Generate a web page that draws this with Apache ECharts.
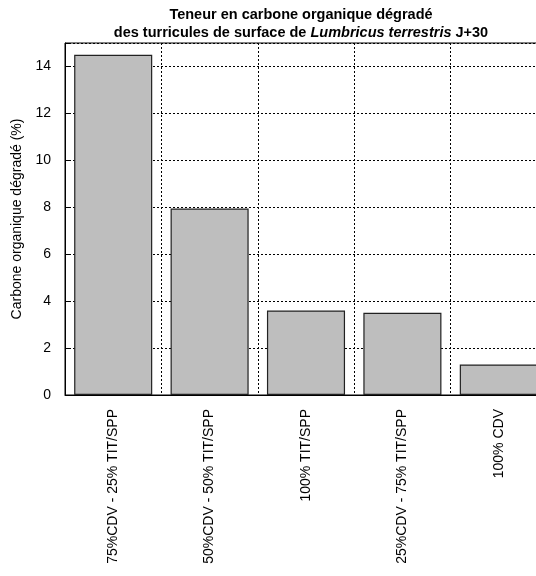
<!DOCTYPE html>
<html>
<head>
<meta charset="utf-8">
<script src="https://cdn.jsdelivr.net/npm/echarts@6/dist/echarts.min.js"></script>
<style>html,body{margin:0;padding:0;background:#fff}#c{width:536px;height:576px}</style>
</head>
<body>
<div id="c"></div>
<script>
const categories = ["75%CDV - 25% TIT/SPP", "50%CDV - 50% TIT/SPP", "100% TIT/SPP", "25%CDV - 75% TIT/SPP", "100% CDV"];
const values = [14.5, 7.95, 3.6, 3.5, 1.3];
const yTicks = [0, 2, 4, 6, 8, 10, 12, 14];
const titleLine1 = "Teneur en carbone organique dégradé";
const titleLine2a = "des turricules de surface de ";
const titleLine2b = "Lumbricus terrestris";
const titleLine2c = " J+30";
const yName = "Carbone organique dégradé (%)";

const chart = echarts.init(document.getElementById('c'), null, {renderer: 'canvas'});
const font = 'Liberation Sans, Arial, Helvetica, sans-serif';
chart.setOption({
  animation: false,
  backgroundColor: '#fff',
  title: {
    text: '{b|' + titleLine1 + '}\n{b|' + titleLine2a + '}{i|' + titleLine2b + '}{b|' + titleLine2c + '}',
    left: 296, top: 1, textAlign: 'center',
    textStyle: {
      fontFamily: font, fontSize: 14.5, fontWeight: 'bold', color: '#000', lineHeight: 18,
      rich: {
        b: {fontFamily: font, fontSize: 14.5, fontWeight: 'bold', color: '#000', lineHeight: 18},
        i: {fontFamily: font, fontSize: 14.5, fontWeight: 'bold', fontStyle: 'italic', color: '#000', lineHeight: 18}
      }
    }
  },
  grid: {left: 65, top: 43, width: 482, height: 352, show: true, borderColor: '#000', borderWidth: 1,
    containLabel: false, outerBoundsMode: 'none'},
  xAxis: {
    type: 'category', data: categories, boundaryGap: true,
    axisLine: {lineStyle: {color: '#000', width: 1}},
    axisTick: {show: false},
    axisLabel: {rotate: 90, margin: 14, color: '#000', fontFamily: font, fontSize: 14},
    splitLine: {show: true, lineStyle: {color: '#000', type: [2, 2], width: 1}}
  },
  yAxis: {
    type: 'value', min: 0, max: 15, interval: 2,
    name: yName, nameLocation: 'middle', nameGap: 31, nameRotate: 90,
    nameTextStyle: {color: '#000', fontFamily: font, fontSize: 14},
    axisLine: {show: true, lineStyle: {color: '#000', width: 1}},
    axisTick: {show: true, inside: true, length: 4, lineStyle: {color: '#000'}},
    axisLabel: {color: '#000', fontFamily: font, fontSize: 14, margin: 14,
      formatter: v => yTicks.includes(v) ? String(v) : ''},
    splitLine: {show: true, lineStyle: {color: '#000', type: [2, 2], width: 1}}
  },
  series: [{
    type: 'bar', data: values, barCategoryGap: '19%',
    itemStyle: {color: '#bebebe', borderColor: '#222', borderWidth: 1.2}
  }]
});
</script>
</body>
</html>
